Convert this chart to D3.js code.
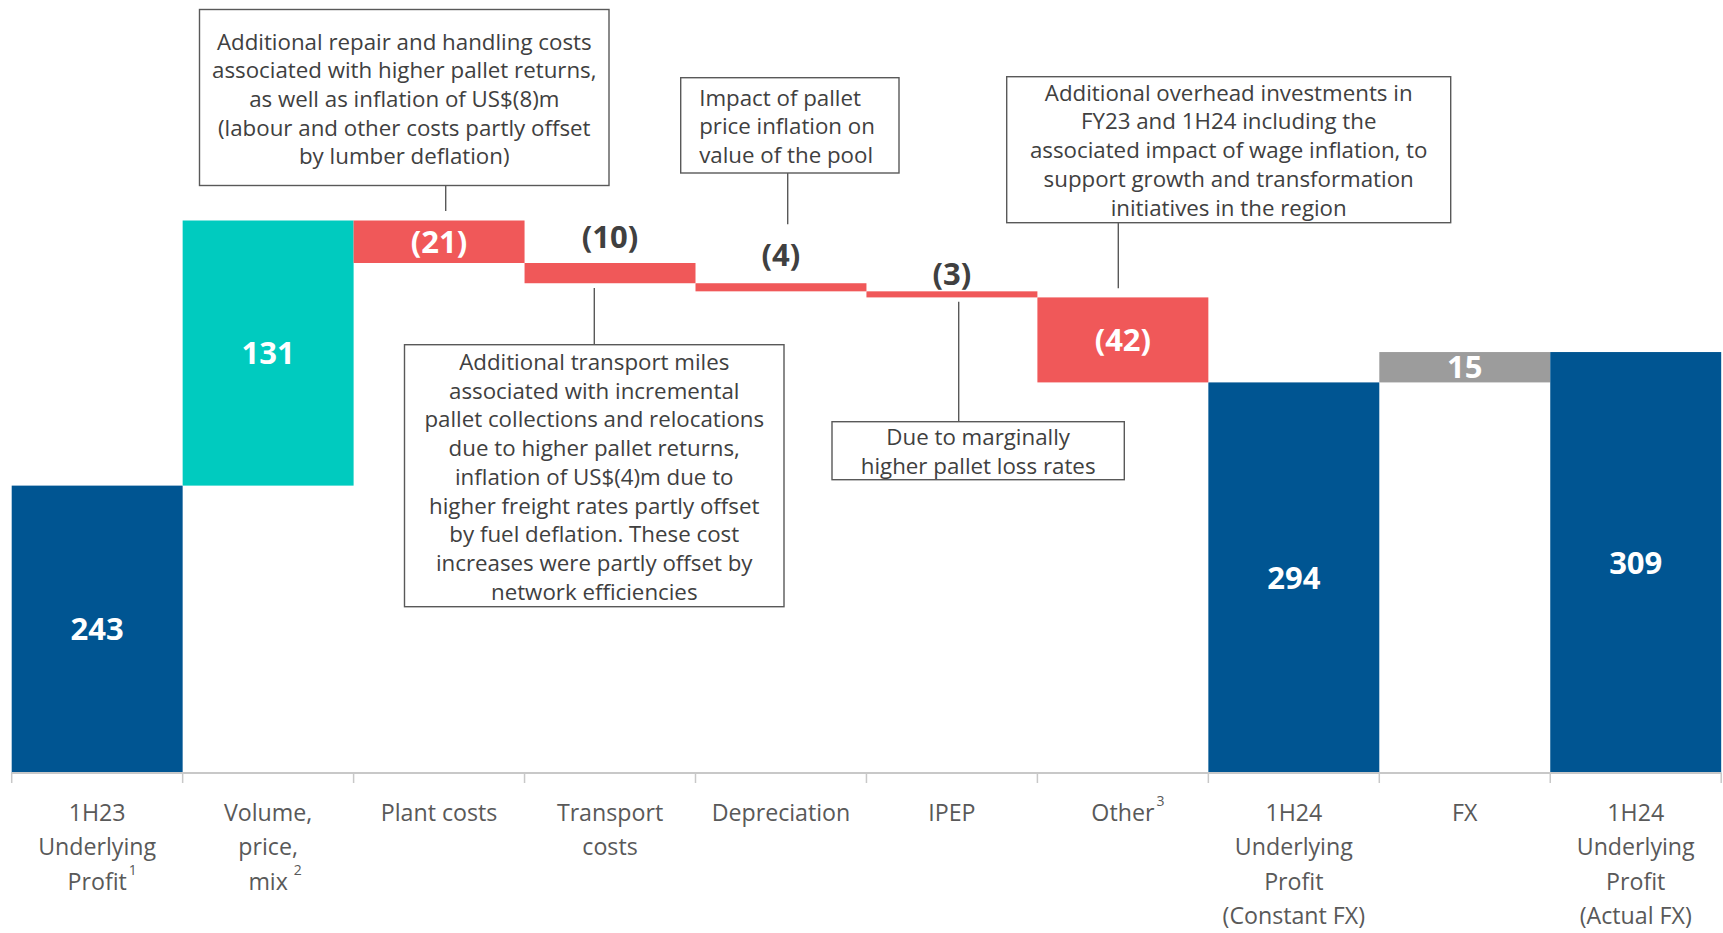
<!DOCTYPE html>
<html>
<head>
<meta charset="utf-8">
<script src="https://cdn.jsdelivr.net/npm/d3@7"></script>
<style>
  html, body { margin: 0; padding: 0; background: #ffffff; }
  svg { display: block; font-family: "Open Sans", "Noto Sans", sans-serif; }
</style>
</head>
<body>
<svg id="chart" width="1723" height="933"></svg>
<script>
// ---------------- data ----------------
const categories = [
  "1H23 Underlying Profit", "Volume, price, mix", "Plant costs", "Transport costs",
  "Depreciation", "IPEP", "Other", "1H24 Underlying Profit (Constant FX)", "FX",
  "1H24 Underlying Profit (Actual FX)"
];
const categoryLines = [
  ["1H23", "Underlying", "Profit"], ["Volume,", "price,", "mix"], ["Plant costs"],
  ["Transport", "costs"], ["Depreciation"], ["IPEP"], ["Other"],
  ["1H24", "Underlying", "Profit", "(Constant FX)"], ["FX"],
  ["1H24", "Underlying", "Profit", "(Actual FX)"]
];
const footnotes = ["1", "2", "", "", "", "", "3", "", "", ""];
const values = [243, 131, -21, -10, -4, -3, -42, 294, 15, 309];
const kinds = ["total", "increase", "decrease", "decrease", "decrease", "decrease", "decrease", "total", "fx", "total"];
const valueLabels = ["243", "131", "(21)", "(10)", "(4)", "(3)", "(42)", "294", "15", "309"];

const annotationTexts = [
  ["Additional repair and handling costs", "associated with higher pallet returns,", "as well as inflation of US$(8)m", "(labour and other costs partly offset", "by lumber deflation)"],
  ["Additional transport miles", "associated with incremental", "pallet collections and relocations", "due to higher pallet returns,", "inflation of US$(4)m due to", "higher freight rates partly offset", "by fuel deflation. These cost", "increases were partly offset by", "network efficiencies"],
  ["Impact of pallet", "price inflation on", "value of the pool"],
  ["Due to marginally", "higher pallet loss rates"],
  ["Additional overhead investments in", "FY23 and 1H24 including the", "associated impact of wage inflation, to", "support growth and transformation", "initiatives in the region"]
];
const annotationCategory = ["Plant costs", "Transport costs", "Depreciation", "IPEP", "Other"];

// ---------------- layout / style ----------------
const colors = { total: "#005592", increase: "#00CBBF", decrease: "#F05859", fx: "#9C9C9C" };
const annotationBoxes = [ // box corners, text alignment, connector position
  { x0: 199.5, y0: 9.5, x1: 609, y1: 185.5, align: "middle", firstBaseline: 49.5, cx: 445.7, cy0: 185.5, cy1: 211 },
  { x0: 404.5, y0: 344.7, x1: 784, y1: 606.7, align: "middle", firstBaseline: 370, cx: 594.3, cy0: 288, cy1: 344.7 },
  { x0: 680.7, y0: 77.7, x1: 899, y1: 173, align: "start", firstBaseline: 105.7, cx: 787.7, cy0: 173, cy1: 224.3 },
  { x0: 832, y0: 421.7, x1: 1124.3, y1: 479.7, align: "middle", firstBaseline: 445, cx: 958.7, cy0: 301.7, cy1: 421.7 },
  { x0: 1006.7, y0: 76.7, x1: 1450.7, y1: 222.7, align: "middle", firstBaseline: 100.7, cx: 1118.3, cy0: 222.7, cy1: 288.3 }
];
const outsideLabelGap = [0, 0, 0, 15, 17, 6, 0, 0, 0, 0];

const svg = d3.select("#chart");

// waterfall computation
let running = 0;
const bars = categories.map((c, i) => {
  const v = values[i];
  let start, end;
  if (kinds[i] === "total") { start = null; end = v; running = v; }
  else { start = running; end = running + v; running = end; }
  return { cat: c, i, v, start, end, kind: kinds[i], label: valueLabels[i] };
});

const x = d3.scaleBand().domain(categories).range([11.7, 1721.2]).padding(0);
const y = d3.scaleLinear().domain([101, 374]).range([773, 220.5]);
const base = y.domain()[0];

// bars
svg.append("g").selectAll("rect").data(bars).join("rect")
  .attr("x", d => x(d.cat))
  .attr("width", x.bandwidth())
  .attr("y", d => d.kind === "total" ? y(d.end) : y(Math.max(d.start, d.end)))
  .attr("height", d => d.kind === "total" ? y(base) - y(d.end) : Math.abs(y(d.start) - y(d.end)))
  .attr("fill", d => colors[d.kind]);

// x axis
const axisG = svg.append("g").attr("transform", `translate(0,${y(base)})`);
axisG.append("line").attr("x1", x.range()[0]).attr("x2", x.range()[1])
  .attr("y1", 0).attr("y2", 0).attr("stroke", "#C8C8C8").attr("stroke-width", 2);
const tickXs = categories.map(c => x(c)).concat([x.range()[1]]);
axisG.selectAll("line.tick").data(tickXs).join("line").attr("class", "tick")
  .attr("x1", d => d).attr("x2", d => d).attr("y1", 0).attr("y2", 10)
  .attr("stroke", "#C8C8C8").attr("stroke-width", 1.5);

// category labels
const catG = svg.append("g");
const labelTop = 821, labelStep = 34.4;
categories.forEach((c, i) => {
  const cx = x(c) + x.bandwidth() / 2;
  const lines = categoryLines[i];
  let lastNode = null;
  lines.forEach((ln, k) => {
    lastNode = catG.append("text")
      .attr("x", cx).attr("y", labelTop + k * labelStep)
      .attr("text-anchor", "middle")
      .attr("font-size", 23.2).attr("fill", "#595959")
      .text(ln);
  });
  if (footnotes[i]) {
    const w = lastNode.node().getComputedTextLength();
    const lastY = labelTop + (lines.length - 1) * labelStep;
    catG.append("text")
      .attr("x", cx + w / 2 + (i === 1 ? 6 : 2)).attr("y", lastY - 15)
      .attr("font-size", 14).attr("fill", "#595959")
      .text(footnotes[i]);
  }
});

// value labels
const valG = svg.append("g");
bars.forEach(d => {
  const top = d.kind === "total" ? y(d.end) : y(Math.max(d.start, d.end));
  const bottom = d.kind === "total" ? y(base) : y(Math.min(d.start, d.end));
  const h = bottom - top;
  const cx = x(d.cat) + x.bandwidth() / 2;
  if (h > 25) {
    valG.append("text").attr("x", cx).attr("y", (top + bottom) / 2)
      .attr("dy", "0.36em").attr("text-anchor", "middle")
      .attr("font-size", 31).attr("font-weight", 700).attr("fill", "#ffffff")
      .text(d.label);
  } else {
    valG.append("text").attr("x", cx).attr("y", top - outsideLabelGap[d.i])
      .attr("text-anchor", "middle")
      .attr("font-size", 31).attr("font-weight", 700).attr("fill", "#404040")
      .text(d.label);
  }
});

// annotations
const annG = svg.append("g");
annotationTexts.forEach((lines, i) => {
  const b = annotationBoxes[i];
  annG.append("rect").attr("x", b.x0).attr("y", b.y0)
    .attr("width", b.x1 - b.x0).attr("height", b.y1 - b.y0)
    .attr("fill", "#ffffff").attr("stroke", "#595959").attr("stroke-width", 1.4);
  annG.append("line").attr("x1", b.cx).attr("x2", b.cx).attr("y1", b.cy0).attr("y2", b.cy1)
    .attr("stroke", "#595959").attr("stroke-width", 1.4);
  const tx = b.align === "middle" ? (b.x0 + b.x1) / 2 : b.x0 + 18.5;
  lines.forEach((ln, k) => {
    annG.append("text").attr("x", tx).attr("y", b.firstBaseline + k * 28.7)
      .attr("text-anchor", b.align)
      .attr("font-size", 22.3).attr("fill", "#404040")
      .text(ln);
  });
});
</script>
</body>
</html>
